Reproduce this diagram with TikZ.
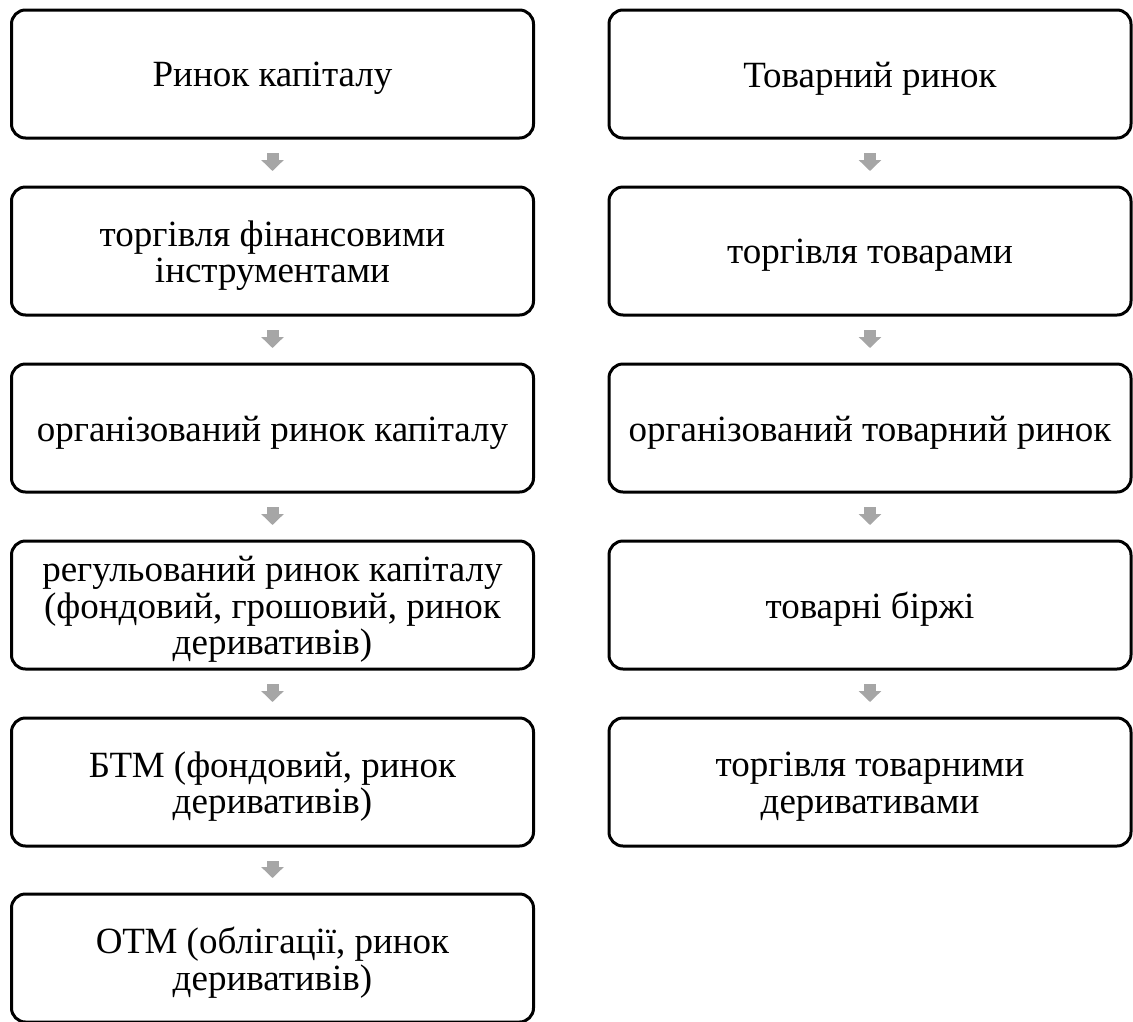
\documentclass[tikz,border=0pt]{standalone}
\usepackage{fontspec}
\setmainfont{Liberation Serif}
\usetikzlibrary{arrows.meta}
\definecolor{flowgray}{RGB}{166,166,166}
\tikzset{
  stagebox/.style={draw=black, line width=3pt, rounded corners=14pt,
    minimum width=522pt, minimum height=128pt, inner sep=0pt},
  stagetext/.style={align=center, inner sep=0pt,
    font=\fontsize{37}{36.5}\selectfont},
  flowarrow/.style={draw=flowgray, line width=12pt,
    -{Triangle[width=22pt,length=11pt]},
    shorten <=13.5pt, shorten >=14.5pt}
}
% a rounded box with its text set slightly below the box centre
\newcommand\stage[3]{%
  \node[stagebox] (#1) at (#2) {};
  \node[stagetext] (#1-t) at ([yshift=-4.5pt]#1.center) {#3};
}
\begin{document}
\begin{tikzpicture}[x=1pt,y=-1pt]
  \useasboundingbox (0,0) rectangle (1133,1021);
  % capital market chain
  \stage{c1}{272.5,74}{Ринок капіталу}
  \stage{c2}{272.5,251}{торгівля фінансовими\\інструментами}
  \stage{c3}{272.5,428}{організований ринок капіталу}
  \stage{c4}{272.5,605}{регульований ринок капіталу\\(фондовий, грошовий, ринок\\деривативів)}
  \stage{c5}{272.5,782}{БТМ (фондовий, ринок\\деривативів)}
  \stage{c6}{272.5,958}{ОТМ (облігації, ринок\\деривативів)}
  % commodity market chain
  \stage{g1}{870,74}{Товарний ринок}
  \stage{g2}{870,251}{торгівля товарами}
  \stage{g3}{870,428}{організований товарний ринок}
  \stage{g4}{870,605}{товарні біржі}
  \stage{g5}{870,782}{торгівля товарними\\деривативами}
  % links
  \foreach \a/\b in {c1/c2,c2/c3,c3/c4,c4/c5,c5/c6,g1/g2,g2/g3,g3/g4,g4/g5}
    \draw[flowarrow] (\a.south) -- (\b.north);
\end{tikzpicture}
\end{document}
